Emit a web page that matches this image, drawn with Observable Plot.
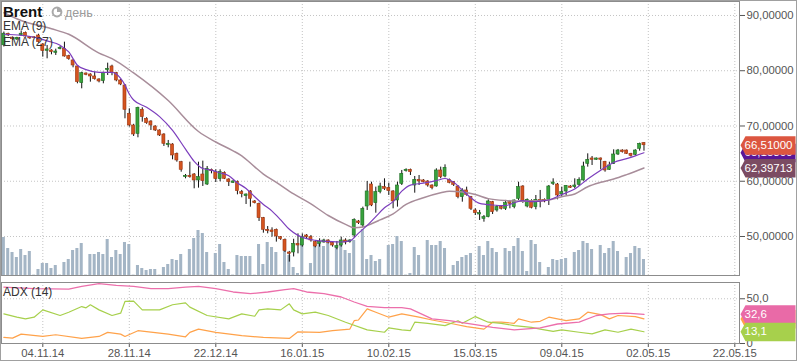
<!DOCTYPE html>
<html><head><meta charset="utf-8">
<script src="https://cdn.jsdelivr.net/npm/d3@7"></script>
<script src="https://cdn.jsdelivr.net/npm/@observablehq/plot@0.6"></script>
<style>
body{margin:0;background:#fff;}
#chart{position:relative;width:798px;height:363px;overflow:hidden;background:#fff;font-family:"Liberation Sans",Arial,sans-serif;}
#chart svg{position:absolute;left:0;}
#border{position:absolute;left:0;top:0;width:797px;height:361px;box-sizing:border-box;border:1px solid #a0a0a0;pointer-events:none;}
</style></head><body>
<div id="chart"></div>
<script>
// ---- data: daily Brent bars (index = bar number) ----
const opens = [84.6,86.68,86.0,85.65,86.4,86.86,86.08,86.05,86.38,84.75,
83.6,83.67,83.24,83.91,83.97,82.64,81.86,80.77,77.75,79.5,
79.32,78.96,78.42,78.12,80.11,80.77,79.56,78.24,77.33,72.2,
70.09,68.58,72.93,71.3,70.81,69.9,69.19,68.46,66.53,66.65,
64.96,63.45,60.74,60.98,61.22,60.14,61.22,59.41,62.07,61.64,
60.38,61.52,60.32,59.71,59.9,58.02,57.3,58.15,56.34,55.91,
53.32,51.21,51.09,51.21,49.88,49.4,47.1,47.1,48.67,48.37,
50.18,49.88,48.98,48.67,48.91,49.28,48.85,47.95,48.37,49.28,
48.98,50.18,52.72,51.99,55.43,59.41,56.03,58.03,58.93,58.81,
58.15,56.52,59.53,61.83,62.07,59.23,60.26,60.14,59.96,59.23,
59.05,61.95,60.86,60.26,59.83,59.05,57.12,58.33,57.12,54.71,
53.98,53.2,53.5,56.21,54.71,55.31,55.01,56.21,55.31,56.82,
59.05,55.43,56.4,55.31,56.64,56.64,56.64,59.53,59.41,57.6,
58.14,59.05,58.93,59.35,60.14,63.15,64.12,63.88,64.12,63.51,
62.07,63.15,64.84,65.56,65.56,64.96,64.78,65.87,66.89];
const highs = [87.0,86.8,86.1,86.05,87.2,87.0,86.2,86.15,86.6,84.9,
84.57,83.8,83.9,84.4,85.17,82.8,82.0,80.9,79.74,79.6,
79.45,79.74,78.55,79.74,81.37,81.0,79.7,78.4,77.5,73.11,
70.3,73.4,73.29,71.5,70.95,70.05,69.3,68.6,67.38,66.8,
65.1,63.6,61.22,63.45,61.4,63.45,63.64,62.67,62.2,62.07,
62.07,61.7,60.45,60.1,60.05,58.33,57.7,58.3,56.5,56.05,
53.45,51.8,51.57,51.35,50.0,49.55,47.3,49.5,50.48,50.48,
50.36,50.18,49.1,49.58,49.5,49.4,48.95,49.1,49.88,49.58,
49.4,53.2,52.9,55.31,59.96,59.83,58.93,59.65,60.44,59.65,
58.3,59.83,61.95,62.25,62.2,60.86,61.04,60.3,60.1,59.35,
62.25,62.55,62.97,60.4,59.95,59.2,58.63,58.93,57.25,55.01,
54.71,53.8,56.64,56.35,55.61,55.61,56.52,56.52,56.6,59.83,
59.2,56.8,56.64,57.42,58.33,56.8,59.23,60.44,59.6,58.93,
59.23,59.2,60.44,60.62,63.45,64.96,64.48,64.2,64.2,63.6,
63.45,65.69,65.75,65.7,65.65,65.05,65.7,66.89,67.0];
const lows = [84.3,86.2,85.5,85.5,86.3,86.1,85.7,85.9,85.0,82.46,
82.16,82.88,82.76,83.79,82.46,81.9,80.53,77.63,76.73,79.1,
77.93,78.3,77.81,77.63,79.14,79.1,78.0,77.3,71.3,69.79,
68.1,67.86,70.69,70.3,69.19,69.0,68.1,66.29,66.05,63.88,
63.45,61.64,60.44,60.56,58.63,58.75,59.05,59.23,61.34,59.77,
59.9,60.3,59.05,59.6,57.54,57.0,55.79,55.31,55.9,52.72,
50.6,50.48,49.88,48.98,49.3,47.1,45.36,46.3,46.86,48.07,
49.58,48.98,47.95,48.07,48.8,48.67,48.07,47.59,48.07,48.49,
48.8,49.76,52.17,51.57,54.71,55.4,54.22,57.72,58.33,57.42,
55.01,55.31,59.23,61.65,61.04,57.84,59.23,59.7,58.93,58.45,
58.93,60.44,60.62,59.53,59.05,56.82,56.21,57.3,54.71,53.8,
52.9,52.59,53.38,53.98,54.41,54.8,54.71,55.01,55.01,56.52,
56.0,55.19,55.0,54.83,55.19,56.1,55.61,59.23,56.64,57.12,
57.42,58.7,58.63,59.05,60.02,62.55,62.85,63.8,62.07,61.64,
61.95,63.03,64.66,65.1,64.84,64.36,64.6,65.44,65.44];
const closes = [86.7,86.38,85.7,85.95,86.7,86.2,85.84,85.95,85.17,83.55,
83.85,83.36,83.48,84.15,82.58,82.1,80.95,77.93,79.56,79.26,
78.96,78.48,78.06,79.62,80.35,79.56,78.24,77.51,72.93,70.09,
68.46,73.29,71.6,70.51,70.09,69.19,68.28,66.77,66.77,64.66,
63.76,62.07,60.98,60.74,60.14,60.74,60.02,62.25,61.82,60.38,
61.64,60.44,59.83,59.96,58.21,57.66,57.6,56.82,56.03,53.32,
51.21,50.97,50.79,50.0,49.52,47.35,46.86,48.67,48.37,49.88,
49.88,49.28,48.19,49.04,49.28,48.85,48.37,48.25,49.28,48.91,
49.28,53.02,52.42,55.01,58.15,55.61,58.03,59.05,58.63,58.21,
56.34,59.23,61.34,62.07,61.65,60.26,59.96,59.83,59.23,58.75,
61.95,60.74,62.43,59.71,59.35,57.12,58.33,57.54,55.01,54.22,
54.22,53.5,56.34,54.41,55.31,55.01,56.03,55.91,56.52,58.93,
56.21,56.64,55.19,56.64,56.21,56.33,59.05,59.77,57.42,58.02,
59.17,58.81,59.23,60.26,62.67,63.88,63.88,64.12,63.88,61.95,
62.85,64.84,65.56,65.26,64.96,64.6,65.56,66.77,66.51];
const volumes = [38,27,23,18,26,20,24,0.4,6,12,
12,7,10,0.4,13,16,25,27,32,0.4,
21,21,23,21,36,18,25,21,33,31,
0.4,10,7,5,6,6,0.4,8,11,16,
15,21,0.4,26,37,45,42,23,0.4,22,
31,13,6,0.4,20,19,19,19,0.4,31,
11,33,28,23,0.4,25,20,8,2,38,
0.4,12,32,32,29,32,0.4,29,32,25,
22,35,0.4,46,16,20,14,16,0.4,30,
31,39,34,0.4,2,28,20,0.4,35,30,
30,34,27,0.4,10,14,18,20,22,0.4,
29,20,34,27,23,0.4,27,24,29,37,
24,4,35,31,13,0.4,8,16,15,16,
17,0.4,23,25,34,32,26,0.4,30,22,
27,34,24,0.4,18,22,29,27,16];

// EMA readings [bar, value]
const ema9 = [[0,86.6],[4,86.4],[8,85.9],[10,85.4],[13,84.6],[15,83.4],[17,81.0],[19,80.2],[22,79.7],[25,79.7],[27,78.6],[28,77.4],[29,75.8],[30,74.7],[33,73.4],[36,71.7],[39,69.2],[42,65.8],[44,63.6],[46,62.3],[48,62.0],[50,61.5],[52,61.0],[54,59.7],[56,58.7],[58,57.2],[60,55.8],[62,54.6],[64,53.0],[66,51.3],[68,50.2],[70,49.6],[72,49.3],[75,49.1],[78,49.0],[80,49.2],[82,50.6],[84,52.0],[86,53.6],[88,55.2],[90,56.3],[92,58.2],[94,59.3],[97,59.65],[100,60.1],[102,60.5],[104,59.8],[106,58.4],[108,57.0],[110,56.0],[113,55.7],[116,55.6],[118,56.1],[120,56.5],[122,56.3],[124,56.4],[126,56.6],[129,57.6],[132,58.6],[135,60.4],[138,62.0],[141,63.4],[144,64.1],[146,64.6],[148,65.153]];
const ema27 = [[0,90.5],[4,89.1],[11,87.6],[15,86.6],[22,83.2],[25,82.2],[30,79.6],[38,74.6],[45,69.0],[49,67.1],[53,65.5],[55,64.6],[58,62.6],[60,61.3],[63,59.8],[67,57.7],[71,55.9],[75,53.8],[79,52.2],[81,51.6],[83,51.7],[85,52.3],[87,53.0],[90,54.1],[93,55.8],[97,57.0],[101,57.9],[103,58.2],[106,58.05],[109,57.6],[112,56.85],[116,56.5],[120,56.4],[126,56.6],[129,57.2],[132,57.7],[135,59.0],[138,59.8],[141,60.4],[144,61.2],[148,62.39713]];

// ADX(14) readings [bar, value]
const adx = [[0,63.1],[7,61.3],[15,60.9],[18,63.9],[22,66.9],[26,65.0],[30,63.9],[34,61.3],[38,61.3],[42,63.1],[45,63.9],[49,61.3],[53,57.6],[57,55.7],[61,57.6],[65,60.2],[67,61.3],[70,57.6],[74,55.7],[78,52.0],[81,46.4],[84,41.5],[88,40.0],[92,40.0],[94,38.7],[99,27.5],[103,25.5],[109,21.0],[113,18.0],[118,15.2],[124,17.5],[128,21.8],[133,23.8],[137,31.3],[140,33.1],[144,33.9],[148,32.6]];
const diMinus = [[0,33.1],[3,29.4],[5,27.5],[7,29.4],[9,37.6],[13,31.3],[15,35.0],[18,41.3],[19,39.9],[20,43.3],[22,37.6],[25,31.3],[27,33.9],[28,47.0],[30,47.4],[32,37.6],[36,37.6],[39,43.3],[42,45.5],[43,40.7],[47,31.3],[52,27.5],[55,33.1],[58,30.5],[59,37.6],[61,38.7],[64,37.6],[66,44.4],[67,37.6],[69,33.1],[72,35.0],[75,31.3],[79,23.8],[84,15.2],[88,12.6],[89,17.5],[92,15.2],[94,14.5],[95,23.8],[98,22.6],[102,20.0],[105,25.5],[106,22.6],[109,30.1],[112,23.8],[115,22.6],[118,20.0],[122,18.0],[124,16.1],[127,13.5],[129,15.2],[133,12.6],[136,10.8],[139,15.2],[142,12.6],[145,16.1],[148,13.1]];
const diPlus = [[0,6.8],[2,6.0],[4,10.5],[9,7.9],[12,9.8],[18,5.7],[22,7.9],[24,12.4],[27,10.5],[28,7.9],[31,14.3],[38,10.5],[42,7.5],[43,12.4],[45,16.1],[49,12.4],[55,8.7],[60,6.8],[66,5.7],[68,13.1],[73,12.4],[76,14.3],[80,16.1],[81,25.5],[82,26.3],[84,38.7],[86,35.0],[89,29.4],[92,33.1],[96,29.4],[99,26.3],[104,21.8],[107,18.8],[111,16.1],[113,23.8],[115,23.8],[118,22.6],[119,27.5],[122,23.8],[124,24.8],[126,29.4],[130,25.5],[133,27.5],[135,35.0],[138,32.3],[140,27.5],[142,31.3],[146,30.1],[148,27.5]];

// axes
const priceTicks = [50, 60, 70, 80, 90];
const adxTicks = [0, 50];
const dateIdx = [9, 29, 49, 69, 89, 109, 129, 149, 169];
const dateLabels = ["04.11.14","28.11.14","22.12.14","16.01.15","10.02.15","15.03.15","09.04.15","02.05.15","22.05.15"];

// ---- build ----
const candles = opens.map((o, i) => ({i, o, h: highs[i], l: lows[i], c: closes[i], v: volumes[i]}));
const ups = candles.filter(d => d.c >= d.o), downs = candles.filter(d => d.c < d.o);
const BODY = 0.35, VOLW = 0.35;
const xDomain = [-0.549, 170.087];
const priceDomain = [42.94, 92.53];
const fmtPrice = d => d.toFixed(5).replace(".", ",");
const fmtAdx = d => d ? d.toFixed(1).replace(".", ",") : "0";
const font = "'Liberation Sans', Arial, sans-serif";
const baseStyle = {background: "transparent", color: "#555", fontFamily: font, fontSize: "11.3px", overflow: "visible"};
const mainDims = {width: 798, height: 277, marginLeft: 1, marginRight: 59, marginTop: 1, marginBottom: 2};
const adxDims = {width: 798, height: 93, marginLeft: 1, marginRight: 59, marginTop: 12, marginBottom: 20};
const grid = {stroke: "#c4c4c4", strokeDasharray: "1,2", strokeWidth: 1};

const tag = {draw(ctx) {ctx.moveTo(1, 0); ctx.lineTo(6, -9); ctx.lineTo(56, -9); ctx.lineTo(56, 9.5); ctx.lineTo(6, 9.5); ctx.closePath();}};
function tagMarks(rows, color, withText = true) {
  const m = [Plot.dot(rows, {y: "value", frameAnchor: "right", symbol: tag, fill: color, stroke: "none"})];
  if (withText) m.push(Plot.text(rows, {y: "value", frameAnchor: "right", dx: 5, text: "label", fill: "white", textAnchor: "start", fontSize: 11.5}));
  return m;
}
const last = a => a[a.length - 1][1];
const priceTag = (v) => [{value: v, label: fmtPrice(v)}];
const adxTag = (v) => [{value: v, label: fmtAdx(v)}];

const chart = document.getElementById("chart");
function place(svg, top) { svg.style.top = top + "px"; chart.appendChild(svg); }

// layer 1: grid, axis, frame
place(Plot.plot({
  ...mainDims, style: {...baseStyle, background: "white"},
  x: {domain: xDomain, axis: null},
  y: {domain: priceDomain, axis: "right", ticks: priceTicks, tickFormat: fmtPrice, tickSize: 5, tickPadding: 2, label: null},
  marks: [
    Plot.ruleY(priceTicks, grid),
    Plot.ruleX(dateIdx, grid),
    Plot.frame({stroke: "#8c8c8c"})
  ]
}), 0);

// ADX panel
place(Plot.plot({
  ...adxDims, style: baseStyle,
  x: {domain: xDomain, axis: "bottom", ticks: dateIdx, tickFormat: i => dateLabels[dateIdx.indexOf(i)], tickSize: 4, tickPadding: 1, label: null},
  y: {domain: [0, 68.2], axis: "right", ticks: adxTicks, tickFormat: fmtAdx, tickSize: 5, tickPadding: 2, label: null},
  marks: [
    Plot.ruleY([50], grid),
    Plot.ruleX(dateIdx.filter(i => i < 170), grid),
    Plot.line(diPlus, {x: d => d[0], y: d => d[1], stroke: "#ffa24a", strokeWidth: 1.2}),
    Plot.line(diMinus, {x: d => d[0], y: d => d[1], stroke: "#a7d04c", strokeWidth: 1.2}),
    Plot.line(adx, {x: d => d[0], y: d => d[1], stroke: "#ec6fab", strokeWidth: 1.3}),
    Plot.frame({stroke: "#8c8c8c"}),
    ...tagMarks(adxTag(last(diPlus)), "#ffa24a", false),
    ...tagMarks(adxTag(last(adx)), "#e96aa7"),
    ...tagMarks(adxTag(last(diMinus)), "#a7d04c")
  ]
}), 270);

// volume layer
place(Plot.plot({
  ...mainDims, style: baseStyle,
  x: {domain: xDomain, axis: null},
  y: {domain: [0, 274], axis: null},
  marks: [
    Plot.rectY(candles, {x1: d => d.i - VOLW, x2: d => d.i + VOLW, y: "v", fill: "#a4b5c5"})
  ]
}), 0);

// candles + EMA layer
place(Plot.plot({
  ...mainDims, style: baseStyle,
  x: {domain: xDomain, axis: null},
  y: {domain: priceDomain, axis: null},
  marks: [
    Plot.ruleX(candles, {x: "i", y1: "l", y2: "h", stroke: "#111", strokeWidth: 1}),
    Plot.rect(ups, {x1: d => d.i - BODY, x2: d => d.i + BODY, y1: "o", y2: "c", fill: "#37a23c", stroke: "#1d6a21", strokeWidth: 0.6}),
    Plot.rect(downs, {x1: d => d.i - BODY, x2: d => d.i + BODY, y1: "o", y2: "c", fill: "#d4541f", stroke: "#9c3512", strokeWidth: 0.6}),
    Plot.line(ema27, {x: d => d[0], y: d => d[1], stroke: "#a88d9a", strokeWidth: 1.5, curve: "monotone-x"}),
    Plot.line(ema9, {x: d => d[0], y: d => d[1], stroke: "#7c3ebd", strokeWidth: 1.2, curve: "monotone-x"}),
    ...tagMarks(priceTag(last(ema9)), "#5a1596"),
    ...tagMarks(priceTag(closes[closes.length - 1]), "#dc5640"),
    ...tagMarks(priceTag(last(ema27)), "#7b4b62")
  ]
}), 0);

// legend texts
const ns = "http://www.w3.org/2000/svg";
const leg = document.createElementNS(ns, "svg");
leg.setAttribute("width", 798); leg.setAttribute("height", 363);
leg.style.top = "0px"; leg.style.pointerEvents = "none";
leg.innerHTML = `
<g font-family="${font.replace(/'/g, "")}">
<text x="3" y="16.8" font-size="15" font-weight="bold" fill="#111">Brent</text>
<circle cx="57" cy="12" r="4.4" fill="none" stroke="#a9a9a9" stroke-width="2"/>
<path d="M57,12 L57,7.6 A4.4,4.4 0 0,1 61.4,12 Z" fill="#a9a9a9"/>
<text x="65" y="16.8" font-size="12.5" fill="#9b9b9b">день</text>
<text x="3" y="30" font-size="12" fill="#333">EMA (9)</text>
<text x="3" y="45.5" font-size="12" fill="#333">EMA (27)</text>
<text x="3" y="295.5" font-size="12" fill="#333">ADX (14)</text>
</g>`;
chart.appendChild(leg);
const border = document.createElement("div"); border.id = "border"; chart.appendChild(border);
</script>
</body></html>
